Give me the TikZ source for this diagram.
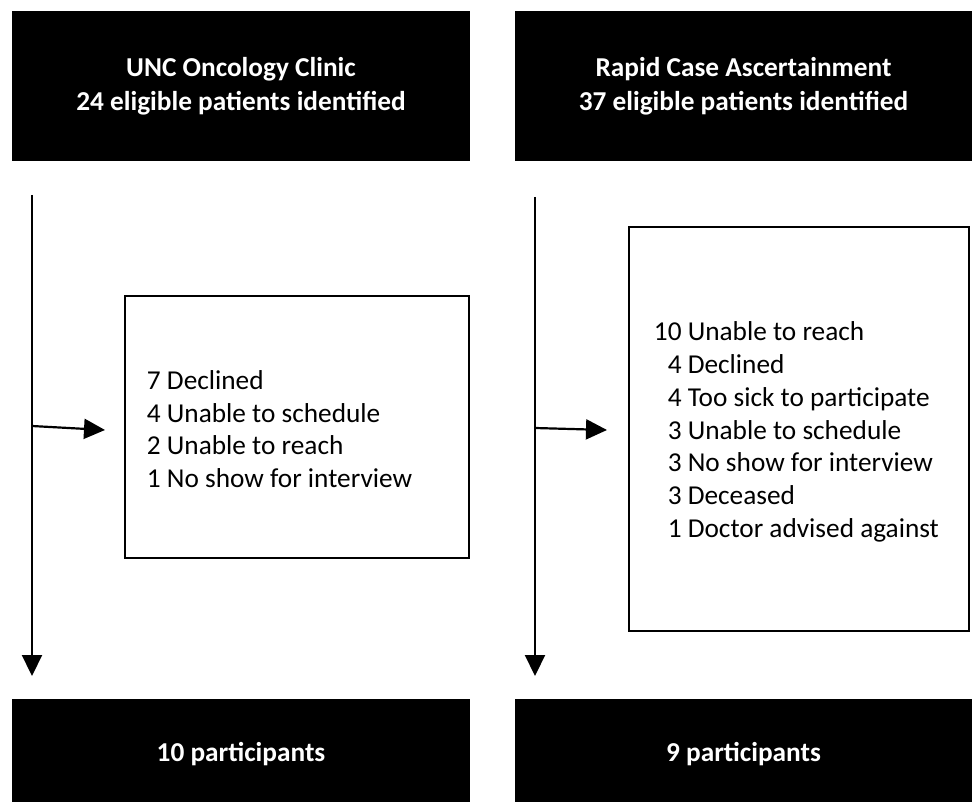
\documentclass[tikz,border=0pt]{standalone}
\usepackage{fontspec}
\setmainfont{Carlito}
\usetikzlibrary{arrows.meta}
\begin{document}
\begin{tikzpicture}[x=1pt,y=-1pt,
  blackbox/.style={fill=black, draw=none, text=white, font=\bfseries\fontsize{27.3}{34}\selectfont, align=center, inner sep=0pt},
  whitebox/.style={draw=black, line width=2.5pt, fill=white, inner sep=0pt},
  listtext/.style={anchor=west, inner sep=0pt, align=left, font=\fontsize{27.3}{32.7}\selectfont},
  flow/.style={line width=2.2pt, -{Triangle[length=21pt,width=20pt]}}
]
\useasboundingbox (0,0) rectangle (972,802);
\fill[white] (0,0) rectangle (972,802);
% black boxes
\node[blackbox, minimum width=458pt, minimum height=150pt] (tl) at (241,86) {UNC Oncology Clinic\\24 eligible patients identified};
\node[blackbox, minimum width=457pt, minimum height=150pt] (tr) at (743.5,86) {Rapid Case Ascertainment\\37 eligible patients identified};
\node[blackbox, minimum width=458pt, minimum height=103pt] (bl) at (241,750.5) {\raisebox{-4pt}[\height][\depth]{10 participants}};
\node[blackbox, minimum width=457pt, minimum height=103pt] (br) at (743.5,750.5) {\raisebox{-4pt}[\height][\depth]{9 participants}};
% exclusion boxes
\node[whitebox, minimum width=344pt, minimum height=262pt] (lx) at (297,427) {};
\node[whitebox, minimum width=340pt, minimum height=404pt] (rx) at (799,429) {};
\node[listtext] (lt) at ([xshift=23pt,yshift=-2pt]lx.west) {7 Declined\\4 Unable to schedule\\2 Unable to reach\\1 No show for interview};
\node[listtext] (rt) at ([xshift=26pt,yshift=-3.5pt]rx.west) {\begin{tabular}{@{}r@{ }l@{}}
10 & Unable to reach\\
4 & Declined\\
4 & Too sick to participate\\
3 & Unable to schedule\\
3 & No show for interview\\
3 & Deceased\\
1 & Doctor advised against
\end{tabular}};
% connectors
\coordinate (la) at (32,195);
\coordinate (lb) at (32,676);
\coordinate (lm) at (32,426);
\coordinate (le) at (105,430);
\coordinate (ra) at (535,197);
\coordinate (rb) at (535,676);
\coordinate (rm) at (535,428);
\coordinate (re) at (607,430);
\draw[flow] (la) -- (lb);
\draw[flow] (lm) -- (le);
\draw[flow] (ra) -- (rb);
\draw[flow] (rm) -- (re);
\end{tikzpicture}
\end{document}
